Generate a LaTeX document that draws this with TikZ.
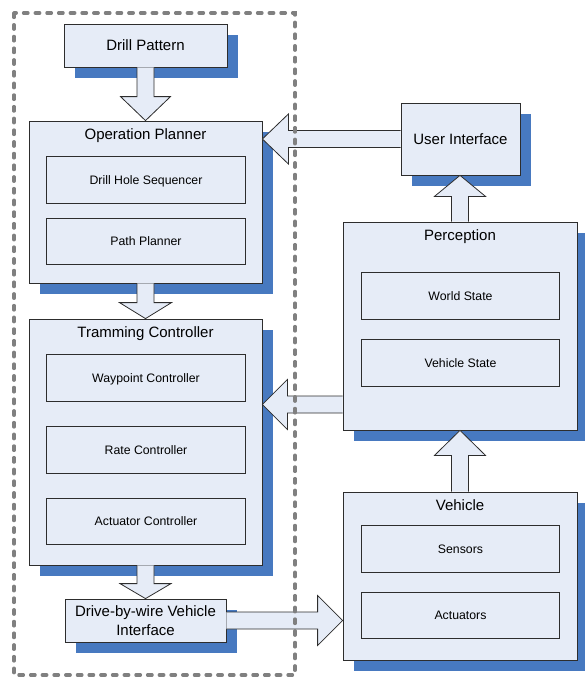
\documentclass[tikz,border=0pt]{standalone}
\usepackage{fontspec}
\setmainfont{Liberation Sans}
\usetikzlibrary{calc,shadows}

\definecolor{boxfill}{RGB}{230,236,247}
\definecolor{shadowblue}{RGB}{71,121,192}
\definecolor{edgegray}{RGB}{45,45,45}
\definecolor{framegray}{RGB}{128,128,128}

\tikzset{
  head len/.store in=\blkhead, head len=25pt,
  wing half/.store in=\blkwing, wing half=25pt,
  shaft half/.store in=\blkshaft, shaft half=8.5pt,
  panel/.style={rectangle, draw=edgegray, line width=0.8pt, fill=boxfill, inner sep=0pt, text=black},
  raised/.style={panel, general shadow={fill=shadowblue, draw=none, shadow xshift=11pt, shadow yshift=-11pt}},
  bigtext/.style={font=\fontsize{15}{18.3}\selectfont},
  smalltext/.style={font=\fontsize{12.3}{15}\selectfont},
  bigbox/.style={raised, bigtext, text height=10.8pt, text depth=0pt},
  inner/.style={panel, smalltext, minimum width=198.5pt, minimum height=46.5pt, text height=8.8pt, text depth=0pt},
  title/.style={bigtext, anchor=base, inner sep=0pt},
  % hollow block arrow drawn from the start point to the target point
  blk/.style={draw=edgegray, line width=0.8pt, fill=boxfill, line join=miter,
    to path={let \p1=(\tikztostart), \p2=(\tikztotarget), \n1={atan2(\y2-\y1,\x2-\x1)} in
      ($(\p1)+(\n1+90:\blkshaft)$)
      -- ($(\p2)+(\n1+180:\blkhead)+(\n1+90:\blkshaft)$)
      -- ($(\p2)+(\n1+180:\blkhead)+(\n1+90:\blkwing)$)
      -- (\p2)
      -- ($(\p2)+(\n1+180:\blkhead)+(\n1-90:\blkwing)$)
      -- ($(\p2)+(\n1+180:\blkhead)+(\n1-90:\blkshaft)$)
      -- ($(\p1)+(\n1-90:\blkshaft)$)}},
  frame/.style={draw=framegray, line width=3.3pt, dash pattern=on 4.5pt off 7.2pt, line cap=round}
}

\begin{document}
\begin{tikzpicture}[x=1pt,y=-1pt]
\useasboundingbox (0,0) rectangle (585,677);

% left column
\node[bigbox, minimum width=163pt, minimum height=43pt] (dp) at (145.5,45.5) {Drill Pattern};

\node[raised, minimum width=233pt, minimum height=162pt] (op) at (145.5,202) {};
\node[title] (opt) at ([yshift=-19pt]op.north) {Operation Planner};
\node[inner] (dhs) at (146,180) {Drill Hole Sequencer};
\node[inner] (pp) at (146,241.5) {Path Planner};

\node[raised, minimum width=233pt, minimum height=246pt] (tc) at (145.5,442) {};
\node[title] (tct) at ([yshift=-19pt]tc.north) {Tramming Controller};
\node[inner] (wc) at (146,378) {Waypoint Controller};
\node[inner] (rc) at (146,450) {Rate Controller};
\node[inner] (ac) at (146,521.5) {Actuator Controller};

\node[raised, bigtext, align=center, minimum width=161pt, minimum height=43pt] (dbw) at (145.5,620.5) {Drive-by-wire Vehicle\\Interface};

% right column
\node[bigbox, minimum width=119pt, minimum height=72pt] (ui) at (460.5,139) {User Interface};

\node[raised, minimum width=234pt, minimum height=208pt] (pe) at (460,326) {};
\node[title] (pet) at ([yshift=-19pt]pe.north) {Perception};
\node[inner] (ws) at (460.5,296) {World State};
\node[inner] (vs) at (460.5,363) {Vehicle State};

\node[raised, minimum width=234pt, minimum height=168pt] (ve) at (460,576) {};
\node[title] (vet) at ([yshift=-18.5pt]ve.north) {Vehicle};
\node[inner] (se) at (460.5,549) {Sensors};
\node[inner] (act) at (460.5,615.5) {Actuators};

% data flow
\draw[blk, head len=24pt] (dp.south) to (op.north);
\draw[blk, head len=16pt, wing half=26pt] (op.south) to (tc.north);
\draw[blk, head len=15pt, wing half=25.5pt] (tc.south) to (dbw.north);
\draw[blk] (dbw.east) to (ve.west |- dbw.east);
\draw[blk, wing half=25.5pt] (ve.north) to (pe.south);
\draw[blk, head len=21pt, wing half=25.5pt] (pe.north) to (pe.north |- ui.south);
\draw[blk, head len=26pt] (ui.west) to (op.east |- ui.west);
\coordinate (fb) at ([yshift=-78.5pt]pe.west);
\draw[blk] (fb) to (tc.east |- fb);

% onboard boundary
\draw[frame] (14,13) rectangle (295,675);
\end{tikzpicture}
\end{document}
